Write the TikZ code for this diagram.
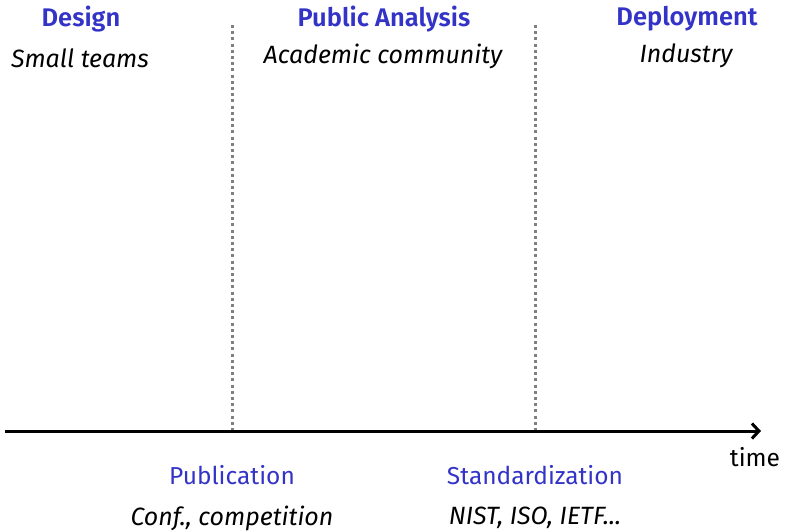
\documentclass[tikz,border=0pt]{standalone}
\usepackage{fontspec}
\IfFontExistsTF{Fira Sans SemiBold}{%
  \setmainfont{Fira Sans}[BoldFont={Fira Sans SemiBold}, BoldItalicFont={Fira Sans SemiBold Italic}]}{%
  \setmainfont{Fira Sans}}
\usetikzlibrary{arrows.meta}
\definecolor{struct}{RGB}{51,51,199}
\tikzset{
  x=1pt, y=-1pt,
  every node/.style={inner sep=0pt, font=\fontsize{24.5}{28}\selectfont},
  head/.style={text=struct, font=\fontsize{25.5}{28}\selectfont\bfseries},
  sub/.style={font=\fontsize{25}{28}\selectfont\itshape},
  evt/.style={text=struct},
  sep/.style={draw=black!50, line width=3pt, dash pattern=on 3pt off 3.2pt},
  axis/.style={draw=black, line width=3pt, -{Straight Barb[length=7pt,width=15pt,line width=3pt]}}
}
\begin{document}
\begin{tikzpicture}
\useasboundingbox (0,0) rectangle (788,531);
\node[head] (design) at (81,19) {Design};
\node[sub] (small) at (80,58) {Small teams};
\node[head] (public) at (384,19) {Public Analysis};
\node[sub] (academic) at (383,56) {Academic community};
\node[head] (deploy) at (687,19) {Deployment};
\node[sub] (industry) at (686,56) {Industry};
\coordinate (s1top) at (232,25);
\coordinate (s1bot) at (232,431);
\coordinate (s2top) at (535,25);
\coordinate (s2bot) at (535,431);
\draw[sep] (s1top) -- (s1bot);
\draw[sep] (s2top) -- (s2bot);
\coordinate (astart) at (5,431);
\coordinate (aend) at (761,431);
\draw[axis] (astart) -- (aend);
\node (time) at (755,457) {time};
\node[evt] (pub) at (232,475) {Publication};
\node[sub] (conf) at (232,518) {Conf., competition};
\node[evt] (std) at (535,475) {Standardization};
\node[sub] (nist) at (535,518) {NIST, ISO, IETF...};
\end{tikzpicture}
\end{document}
